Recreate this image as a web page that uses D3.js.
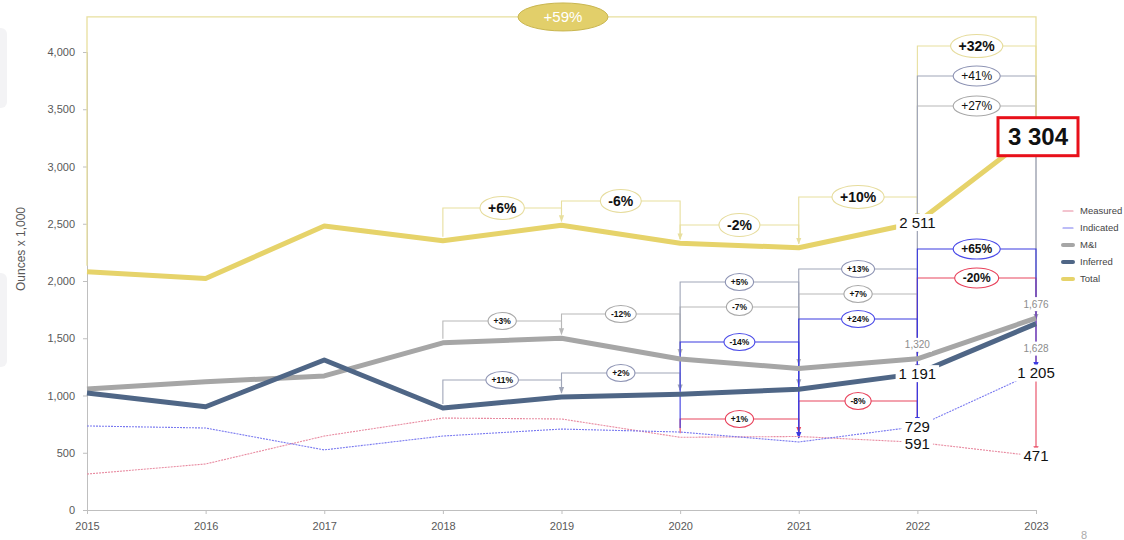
<!DOCTYPE html>
<html>
<head>
<meta charset="utf-8">
<script src="https://cdn.jsdelivr.net/npm/d3@7"></script>
<style>
  body { margin: 0; background: #fff; }
  svg { display: block; font-family: "Liberation Sans", Arial, sans-serif; }
</style>
</head>
<body>
<svg id="chart" width="1124" height="540"></svg>
<script>
// Resource estimates, ounces x 1,000
const years     = [2015, 2016, 2017, 2018, 2019, 2020, 2021, 2022, 2023];
const measured  = [314, 402, 646, 803, 795, 635, 642, 591, 471];
const indicated = [734, 716, 525, 646, 707, 681, 594, 729, 1205];
const mAndI     = [1057, 1120, 1171, 1460, 1500, 1319, 1236, 1320, 1676];
const inferred  = [1022, 902, 1310, 891, 987, 1010, 1055, 1191, 1628];
const total     = [2080, 2022, 2481, 2351, 2487, 2329, 2291, 2511, 3304];

const yTicks = [0, 500, 1000, 1500, 2000, 2500, 3000, 3500, 4000];
const seriesNames = ["Measured", "Indicated", "M&I", "Inferred", "Total"];

// Year-on-year change brackets: [from year, to year, bracket height (oz x 1,000), label]
const totalSteps = [
  [2018, 2019, 2638, "+6%"], [2019, 2020, 2699, "-6%"], [2020, 2021, 2489, "-2%"],
  [2021, 2022, 2734, "+10%"], [2022, 2023, 4052, "+32%"]
];
const miSteps = [
  [2018, 2019, 1651, "+3%"], [2019, 2020, 1712, "-12%"], [2020, 2021, 1773, "-7%"],
  [2021, 2022, 1886, "+7%"], [2022, 2023, 3528, "+27%"]
];
const inferredSteps = [
  [2018, 2019, 1135, "+11%"], [2019, 2020, 1197, "+2%"], [2020, 2021, 1991, "+5%"],
  [2021, 2022, 2105, "+13%"], [2022, 2023, 3790, "+41%"]
];
const indicatedSteps = [
  [2020, 2021, 1467, "-14%"], [2021, 2022, 1668, "+24%"], [2022, 2023, 2279, "+65%"]
];
const measuredSteps = [
  [2020, 2021, 795, "+1%"], [2021, 2022, 952, "-8%"], [2022, 2023, 2026, "-20%"]
];
const overallStep = [2015, 2023, 4306, "+59%"];

const svg = d3.select("#chart");
const x = d3.scaleLinear().domain([2015, 2023]).range([87, 1036]);
const y = d3.scaleLinear().domain([0, 4000]).range([510, 52]);

const spaced = d3.formatLocale({ decimal: ".", thousands: " ", grouping: [3], currency: ["", ""] }).format(",");
const commas = d3.format(",");

// slide side decorations
svg.append("rect").attr("x", -10).attr("y", 28).attr("width", 17).attr("height", 80).attr("rx", 6).attr("fill", "#f3f3f5");
svg.append("rect").attr("x", -10).attr("y", 273).attr("width", 17).attr("height", 94).attr("rx", 6).attr("fill", "#f3f3f5");

// axes
const yAxis = svg.append("g").attr("transform", "translate(87,0)")
  .call(d3.axisLeft(y).tickValues(yTicks).tickFormat(commas).tickSize(4).tickPadding(8));
const xAxis = svg.append("g").attr("transform", "translate(0,510)")
  .call(d3.axisBottom(x).tickValues(years).tickFormat(d3.format("d")).tickSize(4).tickPadding(8));
[yAxis, xAxis].forEach(g => {
  g.select(".domain").attr("stroke", "#bfbfbf");
  g.selectAll(".tick line").attr("stroke", "#bfbfbf");
  g.selectAll(".tick text").attr("fill", "#595959").attr("font-size", 11);
});

svg.append("text").attr("transform", "translate(25,249) rotate(-90)")
  .attr("text-anchor", "middle").attr("font-size", 12).attr("fill", "#595959").text("Ounces x 1,000");

// arrowhead markers, one per bracket colour
const defs = svg.append("defs");
function marker(id, color) {
  defs.append("marker").attr("id", id).attr("viewBox", "0 0 10 10").attr("refX", 9).attr("refY", 5)
    .attr("markerWidth", 6).attr("markerHeight", 6).attr("orient", "auto")
    .append("path").attr("d", "M0,1 L10,5 L0,9 Z").attr("fill", color);
}

const seriesValues = { total, mAndI, inferred, indicated, measured };
const val = (arr, yr) => arr[years.indexOf(yr)];

const bracketStyles = {
  total:     { line: "#e8df9e", ring: "#e6dc9c", size: 14 },
  mAndI:     { line: "#b8b8b8", ring: "#a8a8a8", size: 8.5 },
  inferred:  { line: "#a0a6b8", ring: "#8e94b4", size: 8.5 },
  indicated: { line: "#3b3be0", ring: "#4a4ae8", size: 8.5 },
  measured:  { line: "#e8475f", ring: "#e8405a", size: 8.5 }
};

const bracketLayer = svg.append("g");
const labelLayer = svg.append("g");

function drawBrackets(key, steps) {
  const st = bracketStyles[key];
  const arr = seriesValues[key];
  const mid = "arr-" + key;
  marker(mid, st.line);
  steps.forEach(([y0, y1, level, label]) => {
    const ly = y(level);
    const a = y(val(arr, y0)) - 4, b = y(val(arr, y1)) - 4;
    bracketLayer.append("path")
      .attr("d", `M${x(y0)},${a} V${ly} H${x(y1)} V${b}`)
      .attr("fill", "none").attr("stroke", st.line).attr("stroke-width", 1.1)
      .attr("marker-end", `url(#${mid})`);
    // label in an oval, centred on the bracket
    const big = y0 === 2022;
    const fs = key === "total" ? 14 : (big ? 12 : st.size);
    const fw = (big && (key === "mAndI" || key === "inferred")) ? "normal" : "bold";
    const g = labelLayer.append("g").attr("transform", `translate(${(x(y0) + x(y1)) / 2},${ly})`);
    const el = g.append("ellipse").attr("fill", "#fff").attr("stroke", st.ring).attr("stroke-width", 1.1);
    const t = g.append("text").attr("text-anchor", "middle").attr("dy", "0.35em")
      .attr("font-size", fs).attr("font-weight", fw).attr("fill", "#111").text(label);
    const w = t.node().getComputedTextLength();
    el.attr("rx", w / 2 + (fs > 10 ? 8 : 5.5)).attr("ry", fs > 10 ? (key === "total" ? 11.5 : 10) : 8.5);
  });
}

drawBrackets("total", totalSteps);
drawBrackets("mAndI", miSteps);
drawBrackets("inferred", inferredSteps);
drawBrackets("measured", measuredSteps);
drawBrackets("indicated", indicatedSteps);

// overall change, 2015 to 2023
{
  const [y0, y1, level, label] = overallStep;
  const ly = y(level);
  bracketLayer.append("path")
    .attr("d", `M${x(y0)},${y(val(total, y0)) - 6} V${ly} H${x(y1)} V${y(val(total, y1)) - 4}`)
    .attr("fill", "none").attr("stroke", "#e8df9e").attr("stroke-width", 1.3)
    .attr("marker-end", "url(#arr-total)");
  const g = labelLayer.append("g").attr("transform", `translate(563,${ly})`);
  g.append("ellipse").attr("rx", 45).attr("ry", 14).attr("fill", "#e2cf6a").attr("stroke", "#c9b650");
  g.append("text").attr("text-anchor", "middle").attr("dy", "0.35em").attr("font-size", 15)
    .attr("fill", "#fff").text(label);
}

// series lines
const line = d3.line().x((d, i) => x(years[i])).y(d => y(d));
const lineStyles = [
  { data: measured,  color: "#e88aa0", width: 1.1, dash: "2,1" },
  { data: indicated, color: "#7a7af0", width: 1.1, dash: "2,1" },
  { data: mAndI,     color: "#a6a6a6", width: 5 },
  { data: inferred,  color: "#4f6686", width: 5 },
  { data: total,     color: "#e6d36a", width: 5 }
];
const seriesLayer = svg.insert("g", () => labelLayer.node());
lineStyles.forEach(s => {
  seriesLayer.append("path").attr("d", line(s.data)).attr("fill", "none")
    .attr("stroke", s.color).attr("stroke-width", s.width)
    .attr("stroke-dasharray", s.dash || null).attr("stroke-linejoin", "round");
});

// value call-outs
const valueLayer = svg.append("g");
function callout(arr, yr, size, dy) {
  const v = val(arr, yr);
  const g = valueLayer.append("g").attr("transform", `translate(${x(yr)},${y(v) + dy})`);
  const r = g.append("rect").attr("fill", "#fff");
  const t = g.append("text").attr("text-anchor", "middle").attr("dy", "0.35em")
    .attr("font-size", size).attr("fill", "#111").text(spaced(v));
  const w = t.node().getComputedTextLength();
  r.attr("x", -w / 2 - 3).attr("y", -size / 2 - 1).attr("width", w + 6).attr("height", size + 2);
}
callout(total, 2022, 15, 0);
callout(inferred, 2022, 15, 0);
callout(indicated, 2022, 15, 0);
callout(measured, 2022, 15, 1);
callout(indicated, 2023, 15, 1);
callout(measured, 2023, 15, 0);

function smallLabel(arr, yr, dy) {
  const g = valueLayer.append("g").attr("transform", `translate(${x(yr)},${y(val(arr, yr)) + dy})`);
  const r = g.append("rect").attr("fill", "#fff");
  const t = g.append("text").attr("dy", "0.35em").attr("text-anchor", "middle")
    .attr("font-size", 10).attr("fill", "#8c8c8c").text(commas(val(arr, yr)));
  const w = t.node().getComputedTextLength();
  r.attr("x", -w / 2 - 2).attr("y", -7).attr("width", w + 4).attr("height", 14);
}
smallLabel(mAndI, 2022, -14);
smallLabel(mAndI, 2023, -14);
smallLabel(inferred, 2023, 25);

// boxed 2023 total
{
  const v = val(total, 2023);
  const g = valueLayer.append("g").attr("transform", `translate(${x(2023) + 2},${y(v) + 5})`);
  g.append("rect").attr("x", -40).attr("y", -19).attr("width", 80).attr("height", 38)
    .attr("fill", "#fff").attr("stroke", "#e8101a").attr("stroke-width", 3);
  g.append("text").attr("text-anchor", "middle").attr("dy", "0.36em").attr("font-size", 24)
    .attr("font-weight", "bold").attr("fill", "#111").text(spaced(v));
}

// legend
const legend = svg.append("g").attr("transform", "translate(1063,211)");
lineStyles.forEach((s, i) => {
  const g = legend.append("g").attr("transform", `translate(0,${i * 17})`);
  g.append("line").attr("x1", 0).attr("x2", 10).attr("stroke", s.color)
    .attr("stroke-width", s.width > 2 ? 4 : 1.1).attr("stroke-linecap", "round");
  g.append("text").attr("x", 17).attr("dy", "0.35em").attr("font-size", 9.5).attr("fill", "#444").text(seriesNames[i]);
});

svg.append("text").attr("x", 1081).attr("y", 539).attr("font-size", 11).attr("fill", "#aaa").text("8");
</script>
</body>
</html>
